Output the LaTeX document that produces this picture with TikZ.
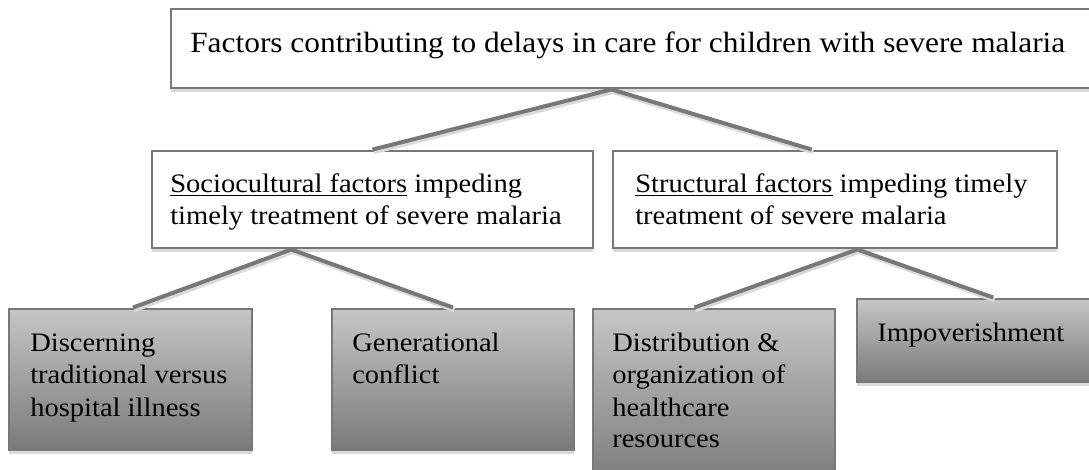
\documentclass[tikz,border=0pt]{standalone}
\usepackage{fontspec}
\setmainfont[FakeStretch=1.07]{Liberation Serif}
\usetikzlibrary{fit,calc,shadows}
\definecolor{bord}{RGB}{120,120,120}
\definecolor{gtop}{RGB}{198,198,198}
\definecolor{gbot}{RGB}{122,122,122}
\definecolor{shad}{RGB}{218,218,218}
\newcommand{\boxlines}[1]{\begin{tabular}[t]{@{}l@{}}#1\end{tabular}}
\begin{document}
\begin{tikzpicture}[x=0.75pt,y=-0.75pt,
  whitebox/.style={draw=bord, line width=2.2pt, fill=white, inner sep=0pt,
    drop shadow={shadow xshift=0pt, shadow yshift=-3pt, fill=shad, opacity=1}},
  greybox/.style={draw=bord, line width=2.2pt, top color=gtop, bottom color=gbot, inner sep=0pt,
    drop shadow={shadow xshift=0pt, shadow yshift=-3pt, fill=shad, opacity=1}},
  txt/.style={anchor=base west, inner sep=0pt, text=black, font=\fontsize{20pt}{24pt}\selectfont},
  bigtxt/.style={txt, font=\fontsize{22pt}{26pt}\selectfont},
  conn/.style={draw=bord, line width=3pt,
    preaction={draw=shad, line width=3pt, transform canvas={shift={(1pt,-2pt)}}}}]
\clip (0,0) rectangle (1089,470);
\fill[white] (0,0) rectangle (1089,470);
% boxes
\node[whitebox, fit={(171,9) (1100,88)}] (top) {};
\node[whitebox, fit={(152,151) (593,248)}] (midL) {};
\node[whitebox, fit={(613,151) (1057,248)}] (midR) {};
\node[greybox, fit={(9,309) (252,450)}] (b1) {};
\node[greybox, fit={(332,309) (574,450)}] (b2) {};
\node[greybox, fit={(593,309) (835,485)}] (b3) {};
\node[greybox, fit={(857,299) (1100,382)}] (b4) {};
% texts
\node[bigtxt] (topt) at (190,53) {Factors contributing to delays in care for children with severe malaria};
\node[txt] (midLt) at (170,193) {\boxlines{\underline{Sociocultural factors} impeding\\timely treatment of severe malaria}};
\node[txt] (midRt) at (635,193) {\boxlines{\underline{Structural factors} impeding timely\\treatment of severe malaria}};
\node[txt] (b1t) at (30,352) {\boxlines{Discerning\\traditional versus\\hospital illness}};
\node[txt] (b2t) at (352,352) {\boxlines{Generational\\conflict}};
\node[txt] (b3t) at (612,352) {\boxlines{Distribution \&\\organization of\\healthcare\\resources}};
\node[txt] (b4t) at (877,342) {\boxlines{Impoverishment}};
% attachment points
\coordinate (a0) at (top.south -| midR.west);
\coordinate (aL) at ($(midL.south west)!0.317!(midL.south east)$);
\coordinate (aR) at ($(midR.south west)!0.55!(midR.south east)$);
\coordinate (tR) at ($(midR.north west)!0.448!(midR.north east)$);
\coordinate (t1) at ($(b1.north west)!0.51!(b1.north east)$);
\coordinate (t3) at ($(b3.north west)!0.42!(b3.north east)$);
\coordinate (t4) at ($(b4.north west)!0.56!(b4.north east)$);
% connectors
\draw[conn] (midL.north) -- (a0) -- (tR);
\draw[conn] (t1) -- (aL) -- (b2.north);
\draw[conn] (t3) -- (aR) -- (t4);
\end{tikzpicture}
\end{document}
